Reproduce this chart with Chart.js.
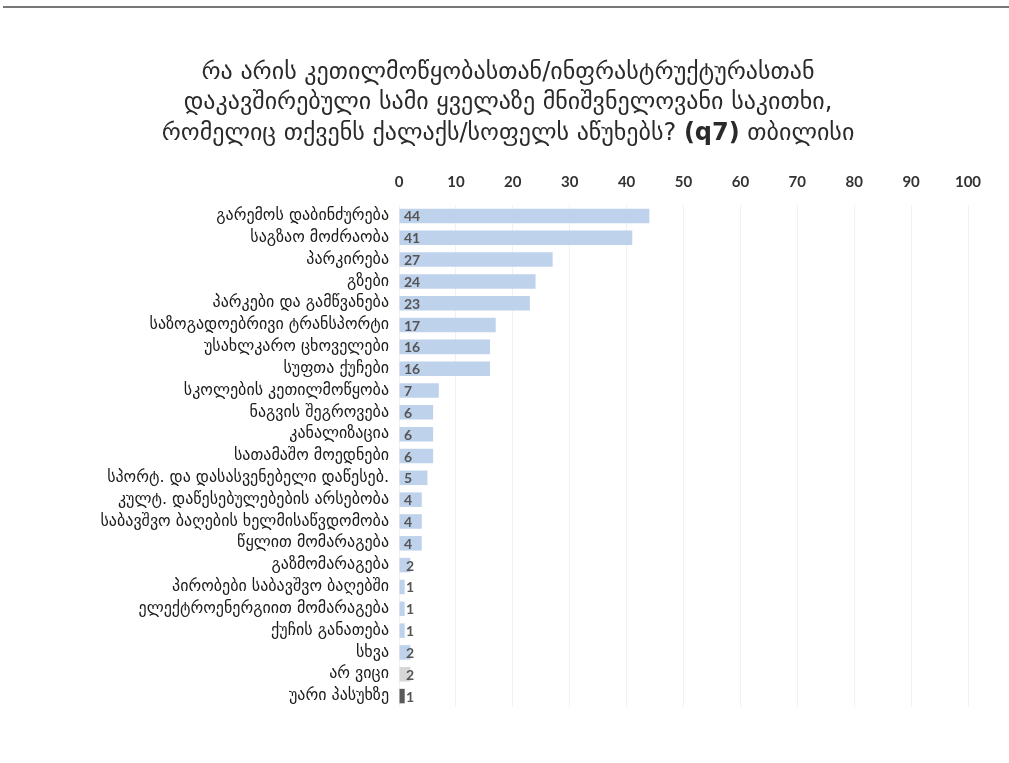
<!DOCTYPE html>
<html>
<head>
<meta charset="utf-8">
<script src="https://cdn.jsdelivr.net/npm/chart.js@4/dist/chart.umd.min.js"></script>
<style>
  body { margin: 0; background: #fff; }
  #wrap { position: relative; width: 1009px; height: 763px; }
  #topline { position: absolute; left: 3px; right: 0; top: 6px; height: 2px; background: #777; }
</style>
</head>
<body>
<div id="wrap">
  <div id="topline"></div>
  <canvas id="myChart" width="1009" height="763"></canvas>
</div>
<script>
// title: each line is a list of [text, bold]
const titleLines = [
  [['რა არის კეთილმოწყობასთან/ინფრასტრუქტურასთან', false]],
  [['დაკავშირებული სამი ყველაზე მნიშვნელოვანი საკითხი,', false]],
  [['რომელიც თქვენს ქალაქს/სოფელს აწუხებს? ', false], ['(q7)', true], [' თბილისი', false]]
];

const categories = [
  'გარემოს დაბინძურება',
  'საგზაო მოძრაობა',
  'პარკირება',
  'გზები',
  'პარკები და გამწვანება',
  'საზოგადოებრივი ტრანსპორტი',
  'უსახლკარო ცხოველები',
  'სუფთა ქუჩები',
  'სკოლების კეთილმოწყობა',
  'ნაგვის შეგროვება',
  'კანალიზაცია',
  'სათამაშო მოედნები',
  'სპორტ. და დასასვენებელი დაწესებ.',
  'კულტ. დაწესებულებების არსებობა',
  'საბავშვო ბაღების ხელმისაწვდომობა',
  'წყლით მომარაგება',
  'გაზმომარაგება',
  'პირობები საბავშვო ბაღებში',
  'ელექტროენერგიით მომარაგება',
  'ქუჩის განათება',
  'სხვა',
  'არ ვიცი',
  'უარი პასუხზე'
];

const values = [44, 41, 27, 24, 23, 17, 16, 16, 7, 6, 6, 6, 5, 4, 4, 4, 2, 1, 1, 1, 2, 2, 1];

const xTicks = [0, 10, 20, 30, 40, 50, 60, 70, 80, 90, 100];

const barColors = categories.map(c => {
  if (c === 'არ ვიცი') return '#d6d6d6';
  if (c === 'უარი პასუხზე') return '#5a5a5a';
  return '#bed2eb';
});

// title with a bold "(q7)" piece, drawn by hand
const richTitle = {
  id: 'richTitle',
  afterDraw(chart) {
    const ctx = chart.ctx;
    const cx = 508;
    const ys = [73, 103, 134];
    ctx.save();
    ctx.fillStyle = '#2a2a2a';
    ctx.textBaseline = 'middle';
    ctx.textAlign = 'left';
    titleLines.forEach((parts, li) => {
      const fonts = parts.map(p => (p[1] ? 'bold ' : '') + '24px "DejaVu Sans"');
      let total = 0;
      parts.forEach((p, i) => { ctx.font = fonts[i]; total += ctx.measureText(p[0]).width; });
      let x = cx - total / 2;
      parts.forEach((p, i) => {
        ctx.font = fonts[i];
        ctx.fillText(p[0], x, ys[li]);
        x += ctx.measureText(p[0]).width;
      });
    });
    ctx.restore();
  }
};

// values written inside the bars, near the zero line
const valueLabels = {
  id: 'valueLabels',
  afterDatasetsDraw(chart) {
    const ctx = chart.ctx;
    const meta = chart.getDatasetMeta(0);
    const x0 = chart.scales.x.getPixelForValue(0);
    ctx.save();
    ctx.font = 'bold 14px Lato';
    ctx.fillStyle = '#555';
    ctx.textBaseline = 'middle';
    ctx.textAlign = 'left';
    meta.data.forEach((bar, i) => {
      const v = chart.data.datasets[0].data[i];
      const offs = v <= 2 ? 7 : 5;
      ctx.fillText(String(v), x0 + offs, bar.y + 1);
    });
    ctx.restore();
  }
};

const data = {
  labels: categories,
  datasets: [{
    data: values,
    backgroundColor: barColors,
    borderWidth: 0,
    categoryPercentage: 0.7,
    barPercentage: 0.95
  }]
};

const config = {
  type: 'bar',
  data: data,
  plugins: [valueLabels, richTitle],
  options: {
    indexAxis: 'y',
    responsive: false,
    animation: false,
    layout: { padding: { top: 159, right: 41, left: 0, bottom: 56 } },
    plugins: {
      legend: { display: false },
      tooltip: { enabled: false },
      title: { display: false }
    },
    scales: {
      x: {
        position: 'top',
        min: 0,
        max: 100,
        afterBuildTicks(scale) {
          scale.ticks = xTicks.map(v => ({ value: v }));
        },
        ticks: {
          color: '#333',
          font: { family: 'Lato', size: 15, weight: 'bold' },
          padding: 14
        },
        grid: { color: '#f1f1f1', drawTicks: false },
        border: { display: false }
      },
      y: {
        afterFit(scale) { scale.width = 399; },
        ticks: {
          color: '#1a1a1a',
          font: { family: 'DejaVu Sans', size: 16 },
          padding: 2,
          autoSkip: false
        },
        grid: { display: false },
        border: { display: false }
      }
    }
  }
};

const myChart = new Chart(
  document.getElementById('myChart'),
  config
);
</script>
</body>
</html>
